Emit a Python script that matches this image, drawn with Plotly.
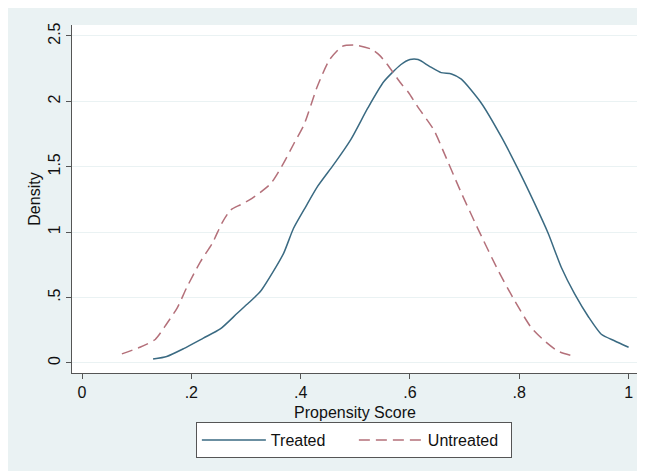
import plotly.graph_objects as go

treated_x = [0.130, 0.155, 0.186, 0.222, 0.253, 0.284, 0.305, 0.327, 0.350, 0.369, 0.387, 0.410,
             0.431, 0.461, 0.492, 0.523, 0.552, 0.583, 0.600, 0.615, 0.635, 0.657, 0.676, 0.694,
             0.730, 0.767, 0.798, 0.828, 0.853, 0.877, 0.901, 0.927, 0.950, 0.974, 1.000]
treated_y = [0.03, 0.05, 0.11, 0.19, 0.26, 0.38, 0.46, 0.55, 0.70, 0.84, 1.03, 1.20,
             1.35, 1.52, 1.71, 1.95, 2.15, 2.28, 2.32, 2.32, 2.27, 2.22, 2.21, 2.17,
             1.99, 1.73, 1.48, 1.22, 0.99, 0.73, 0.53, 0.35, 0.22, 0.17, 0.12]

untreated_x = [0.073, 0.106, 0.134, 0.155, 0.174, 0.192, 0.216, 0.239, 0.256, 0.272, 0.290, 0.308,
               0.345, 0.369, 0.388, 0.406, 0.431, 0.453, 0.476, 0.500, 0.529, 0.545, 0.559, 0.583,
               0.597, 0.614, 0.644, 0.662, 0.694, 0.725, 0.761, 0.791, 0.822, 0.846, 0.871, 0.901]
untreated_y = [0.07, 0.12, 0.18, 0.30, 0.42, 0.58, 0.77, 0.92, 1.07, 1.17, 1.21, 1.25,
               1.37, 1.53, 1.68, 1.82, 2.12, 2.32, 2.42, 2.43, 2.40, 2.35, 2.28, 2.14,
               2.07, 1.96, 1.78, 1.61, 1.30, 1.02, 0.71, 0.48, 0.27, 0.17, 0.09, 0.05]

x_tickvals = [0, 0.2, 0.4, 0.6, 0.8, 1.0]
x_ticktext = ["0", ".2", ".4", ".6", ".8", "1"]
y_tickvals = [0, 0.5, 1, 1.5, 2, 2.5]
y_ticktext = ["0", ".5", "1", "1.5", "2", "2.5"]

BG = "#eaf2f3"
FONT = "Liberation Sans, Arial, sans-serif"

fig = go.Figure()
fig.add_trace(go.Scatter(x=treated_x, y=treated_y, mode="lines", name="Treated",
                         line=dict(color="#3a6a82", width=1.5, shape="spline", smoothing=0.6)))
fig.add_trace(go.Scatter(x=untreated_x, y=untreated_y, mode="lines", name="Untreated",
                         line=dict(color="#b4707a", width=1.5, dash="11px,6px",
                                   shape="spline", smoothing=0.6)))

fig.update_layout(
    width=637, height=463,
    margin=dict(l=64, r=7, t=17, b=98),
    paper_bgcolor=BG, plot_bgcolor="white",
    font=dict(family=FONT, size=16, color="#111"),
    showlegend=True,
    legend=dict(orientation="h", x=0.498, xanchor="center", y=-0.141, yanchor="top",
                bgcolor="white", bordercolor="#555", borderwidth=1,
                font=dict(size=16), itemwidth=64, entrywidth=78),
)
fig.update_xaxes(range=[-0.0183, 1.0172], tickvals=x_tickvals, ticktext=x_ticktext,
                 showgrid=False, zeroline=False, showline=True, linecolor="#555", linewidth=1,
                 ticks="outside", ticklen=5, tickcolor="#555", automargin=False,
                 title=dict(text="Propensity Score", standoff=6, font=dict(size=16)))
fig.update_yaxes(range=[-0.0765, 2.584], tickvals=y_tickvals, ticktext=y_ticktext,
                 tickangle=-90, showgrid=True, gridcolor=BG, gridwidth=1, zeroline=False,
                 showline=True, linecolor="#555", linewidth=1, automargin=False,
                 ticks="outside", ticklen=5, tickcolor="#555",
                 title=dict(text="Density", standoff=0, font=dict(size=16)))

fig.write_html("out.html")
